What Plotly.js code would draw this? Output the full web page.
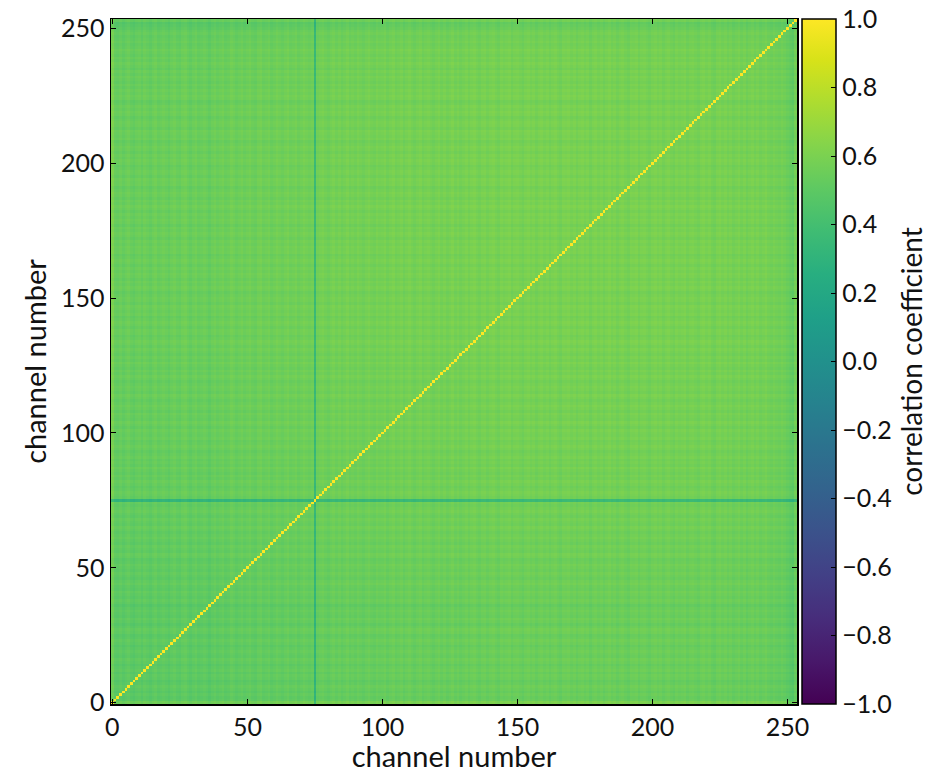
<!DOCTYPE html>
<html>
<head>
<meta charset="utf-8">
<script src="https://cdn.plot.ly/plotly-3.0.1.min.js"></script>
<style>html,body{margin:0;padding:0;background:#fff;}#chart{width:942px;height:773px;}</style>
</head>
<body>
<div id="chart"></div>
<script>
var channelLevels = [
0.62,0.49,0.47,0.51,0.46,0.50,0.53,0.48,0.45,0.50,0.52,0.47,0.53,0.50,0.46,0.51,0.54,0.48,0.50,0.53,
0.50,0.46,0.51,0.54,0.49,0.47,0.53,0.55,0.50,0.46,0.51,0.54,0.48,0.50,0.53,0.50,0.45,0.51,0.54,0.49,
0.52,0.55,0.49,0.51,0.56,0.53,0.49,0.52,0.55,0.50,0.53,0.56,0.51,0.49,0.55,0.57,0.51,0.53,0.56,0.50,
0.53,0.57,0.54,0.51,0.55,0.58,0.52,0.54,0.57,0.51,0.54,0.58,0.55,0.52,0.55,0.12,0.54,0.57,0.59,0.55,
0.52,0.56,0.59,0.54,0.58,0.53,0.56,0.60,0.54,0.57,0.54,0.59,0.56,0.53,0.57,0.60,0.56,0.54,0.59,0.56,
0.57,0.60,0.54,0.58,0.61,0.55,0.57,0.60,0.54,0.58,0.61,0.57,0.54,0.58,0.61,0.55,0.58,0.60,0.57,0.54,
0.58,0.61,0.56,0.60,0.55,0.58,0.62,0.56,0.60,0.55,0.58,0.61,0.56,0.60,0.62,0.58,0.55,0.60,0.61,0.56,
0.60,0.62,0.58,0.55,0.61,0.58,0.60,0.62,0.56,0.60,0.61,0.58,0.55,0.60,0.62,0.58,0.61,0.56,0.60,0.62,
0.58,0.61,0.56,0.60,0.62,0.58,0.55,0.61,0.60,0.62,0.58,0.61,0.56,0.60,0.62,0.58,0.61,0.55,0.60,0.62,
0.58,0.61,0.56,0.60,0.63,0.58,0.61,0.56,0.60,0.62,0.58,0.55,0.61,0.60,0.62,0.56,0.60,0.61,0.58,0.55,
0.60,0.62,0.58,0.61,0.56,0.60,0.62,0.58,0.55,0.61,0.58,0.60,0.62,0.56,0.60,0.61,0.58,0.55,0.60,0.62,
0.58,0.61,0.56,0.54,0.60,0.62,0.58,0.61,0.56,0.60,0.55,0.58,0.61,0.56,0.60,0.54,0.58,0.61,0.56,0.60,
0.55,0.58,0.61,0.56,0.54,0.58,0.55,0.53,0.57,0.54,0.50,0.47,0.44,0.56
];
var axisTicks = [0, 50, 100, 150, 200, 250];
var colorTicks = [-1.0, -0.8, -0.6, -0.4, -0.2, 0.0, 0.2, 0.4, 0.6, 0.8, 1.0];
var colorTickLabels = ['\u22121.0','\u22120.8','\u22120.6','\u22120.4','\u22120.2','0.0','0.2','0.4','0.6','0.8','1.0'];

var n = channelLevels.length;
var channels = [];
for (var k = 0; k < n; k++) channels.push(k);
var z = [];
for (var i = 0; i < n; i++) {
  var row = [];
  for (var j = 0; j < n; j++) {
    row.push(i === j ? 1.0 : (channelLevels[i] + channelLevels[j]) / 2);
  }
  z.push(row);
}

var fontFam = 'Lato, "Open Sans", sans-serif';
var trace = {
  type: 'heatmap',
  x: channels, y: channels, z: z,
  zmin: -1, zmax: 1,
  colorscale: 'Viridis',
  hoverinfo: 'skip',
  colorbar: {
    x: 1.007, xanchor: 'left', xref: 'paper',
    y: 0.5, yanchor: 'middle', len: 1, lenmode: 'fraction',
    thickness: 34, xpad: 0, ypad: 0,
    outlinecolor: '#000', outlinewidth: 1.5,
    ticks: 'inside', ticklen: 5, tickcolor: '#000',
    tickvals: colorTicks, ticktext: colorTickLabels,
    tickfont: {family: fontFam, size: 25, color: '#111'},
    title: {text: 'correlation coefficient', side: 'right', font: {family: fontFam, size: 28, color: '#111'}}
  }
};

var axisCommon = {
  range: [-0.5, 253.5],
  tickvals: axisTicks,
  ticks: 'inside', ticklen: 5, tickcolor: '#000', tickwidth: 1,
  showline: true, linecolor: '#000', linewidth: 1.5, mirror: 'ticks',
  showgrid: false, zeroline: false,
  tickfont: {family: fontFam, size: 25, color: '#111'}
};

var layout = {
  width: 942, height: 773,
  margin: {l: 111, r: 145, t: 19, b: 69},
  paper_bgcolor: '#fff', plot_bgcolor: '#fff',
  xaxis: Object.assign({}, axisCommon, {title: {text: 'channel number', font: {family: fontFam, size: 29, color: '#111'}, standoff: 9}}),
  yaxis: Object.assign({}, axisCommon, {title: {text: 'channel number', font: {family: fontFam, size: 29, color: '#111'}, standoff: 6}}),
  showlegend: false
};

Plotly.newPlot('chart', [trace], layout, {displayModeBar: false, staticPlot: true});
</script>
</body>
</html>
